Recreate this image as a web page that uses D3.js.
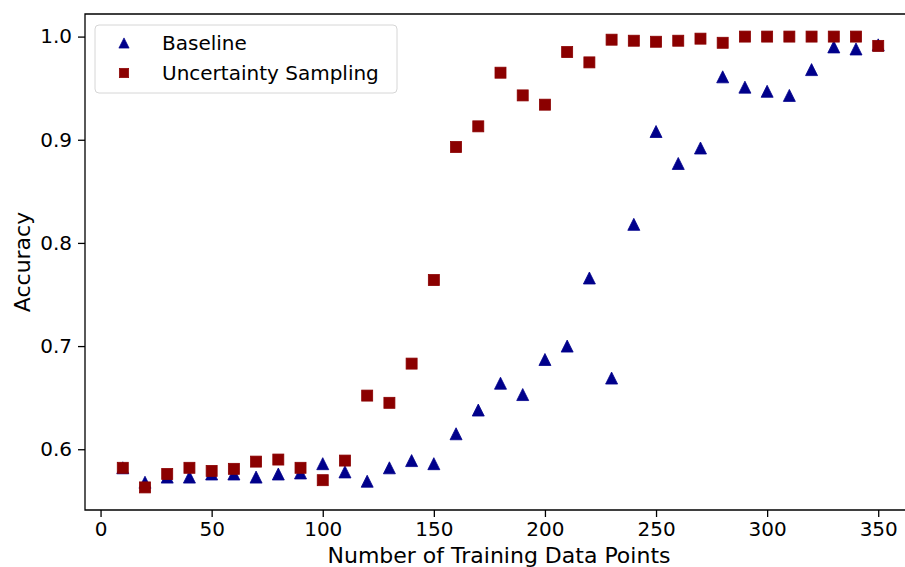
<!DOCTYPE html>
<html>
<head>
<meta charset="utf-8">
<script src="https://cdn.jsdelivr.net/npm/d3@7"></script>
<style>
  body { margin: 0; background: #fff; overflow: hidden; }
  svg { display: block; font-family: "DejaVu Sans", sans-serif; }
</style>
</head>
<body>
<div id="chart"></div>
<script>
// training set sizes, shared by both series
const trainSizes = [10, 20, 30, 40, 50, 60, 70, 80, 90, 100, 110, 120, 130, 140, 150, 160, 170, 180,
  190, 200, 210, 220, 230, 240, 250, 260, 270, 280, 290, 300, 310, 320, 330, 340, 350]

const baselineAcc = [0.582, 0.568, 0.573, 0.573, 0.576, 0.576, 0.573, 0.576, 0.577, 0.586, 0.578,
  0.569, 0.582, 0.589, 0.586, 0.615, 0.638, 0.664, 0.653, 0.687, 0.700, 0.766, 0.669, 0.818,
  0.908, 0.877, 0.892, 0.961, 0.951, 0.947, 0.943, 0.968, 0.990, 0.988, 0.992]

const uncertaintyAcc = [0.582, 0.563, 0.576, 0.582, 0.579, 0.581, 0.588, 0.590, 0.582, 0.570, 0.589,
  0.652, 0.645, 0.683, 0.764, 0.893, 0.913, 0.965, 0.943, 0.934, 0.985, 0.975, 0.997, 0.996,
  0.995, 0.996, 0.998, 0.994, 1.0, 1.0, 1.0, 1.0, 1.0, 1.0, 0.991]

const xTicks = [0, 50, 100, 150, 200, 250, 300, 350]
const yTicks = [0.6, 0.7, 0.8, 0.9, 1.0]

const seriesNames = ["Baseline", "Uncertainty Sampling"]
const seriesColors = ["#00008b", "#8b0000"]

const width = 905, height = 567
const margin = {top: 14, left: 85, bottom: 57}
const plotW = 831 // right side of the axes is cut off by the picture edge

const svg = d3.select("#chart").append("svg")
  .attr("width", width).attr("height", height)

let x = d3.scaleLinear().domain([-7, 367]).range([margin.left, margin.left + plotW])
let y = d3.scaleLinear().domain([0.5411, 1.0219]).range([height - margin.bottom, margin.top])

const symSize = 12

const drawMark = (sel, i) => {
  if (i == 0) {
    sel.append("path")
      .attr("d", `M0,${-symSize/2}L${symSize/2},${symSize/2}L${-symSize/2},${symSize/2}Z`)
      .attr("fill", seriesColors[0])
      .attr("stroke", seriesColors[0]).attr("stroke-width", 0.8)
  } else {
    sel.append("rect")
      .attr("x", -symSize/2 + 0.5).attr("y", -symSize/2 + 0.5)
      .attr("width", symSize - 1).attr("height", symSize - 1)
      .attr("fill", seriesColors[1])
      .attr("stroke", seriesColors[1]).attr("stroke-width", 0.8)
  }
}

// points, squares drawn after triangles so they sit on top
const allSeries = [baselineAcc, uncertaintyAcc]
allSeries.forEach((vals, si) => {
  svg.append("g").selectAll("g")
    .data(vals)
    .enter().append("g")
    .attr("transform", (d, i) => `translate(${x(trainSizes[i])},${y(d)})`)
    .each(function() { drawMark(d3.select(this), si) })
})

// axes
const xAxis = svg.append("g")
  .attr("transform", `translate(0,${height - margin.bottom})`)
  .call(d3.axisBottom(x).tickValues(xTicks).tickSize(7).tickPadding(5).tickFormat(d3.format("d")))
const yAxis = svg.append("g")
  .attr("transform", `translate(${margin.left},0)`)
  .call(d3.axisLeft(y).tickValues(yTicks).tickSize(7).tickPadding(6).tickFormat(d3.format(".1f")))

;[xAxis, yAxis].forEach(a => {
  a.select(".domain").remove()
  a.selectAll(".tick line").attr("stroke", "#000").attr("stroke-width", 1.3)
  a.selectAll(".tick text").attr("fill", "#000").style("font-size", "20px")
    .style("font-family", "'DejaVu Sans', sans-serif")
})

// spines: left, top, bottom (right one falls outside the picture)
const bottomY = height - margin.bottom
svg.append("path")
  .attr("d", `M${width},${margin.top}H${margin.left}V${bottomY}H${width}`)
  .attr("fill", "none").attr("stroke", "#000").attr("stroke-width", 1.3)

// axis labels
svg.append("text")
  .attr("x", 499).attr("y", 563)
  .attr("text-anchor", "middle")
  .style("font-size", "22px")
  .text("Number of Training Data Points")

svg.append("text")
  .attr("transform", `translate(30,${(margin.top + bottomY) / 2}) rotate(-90)`)
  .attr("text-anchor", "middle")
  .style("font-size", "22px")
  .text("Accuracy")

// legend
const legend = svg.append("g").attr("transform", "translate(95,25)")
legend.append("rect")
  .attr("width", 302).attr("height", 68).attr("rx", 4)
  .attr("fill", "#fff").attr("fill-opacity", 0.8)
  .attr("stroke", "#d6d6d6").attr("stroke-width", 1)

seriesNames.forEach((name, i) => {
  const row = legend.append("g").attr("transform", `translate(0,${18 + i * 30})`)
  const m = row.append("g").attr("transform", "translate(29,0) scale(0.85)")
  drawMark(m, i)
  row.append("text")
    .attr("x", 67).attr("y", 7)
    .style("font-size", "20px")
    .text(name)
})
</script>
</body>
</html>
